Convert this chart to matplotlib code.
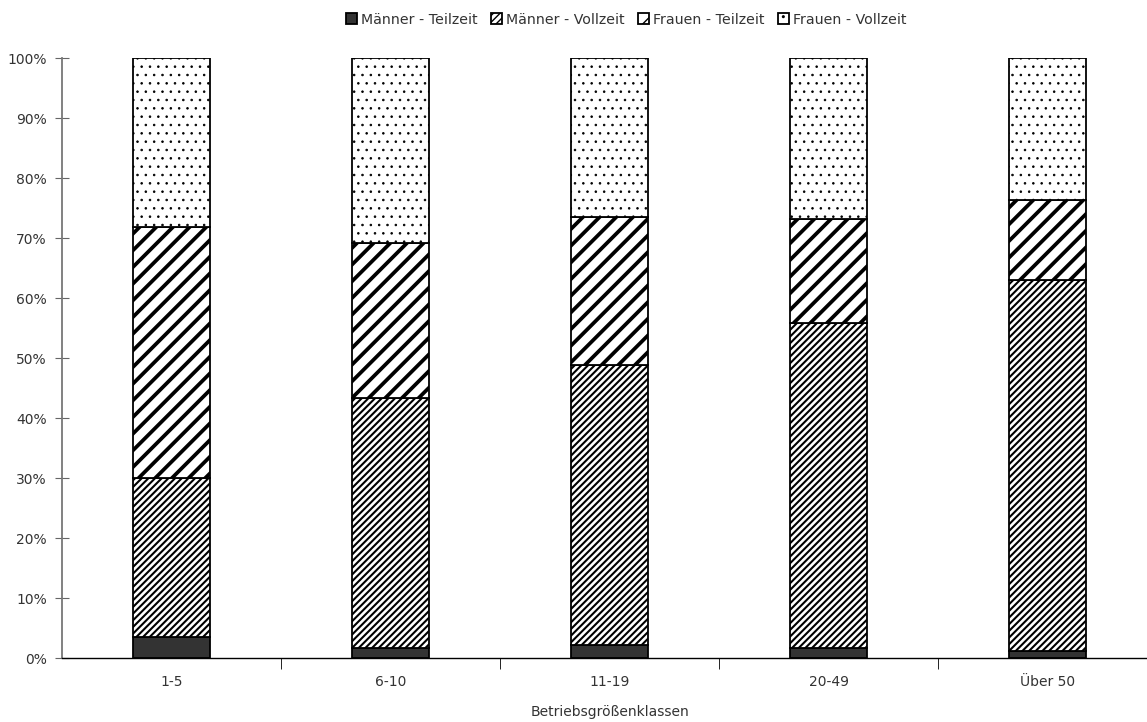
import matplotlib
matplotlib.use("Agg")
import matplotlib.pyplot as plt
import numpy as np

plt.rcParams['font.family'] = ['DejaVu Sans']
plt.rcParams['font.size'] = 10
plt.rcParams['text.color'] = '#333333'
plt.rcParams['xtick.labelcolor'] = '#333333'
plt.rcParams['ytick.labelcolor'] = '#333333'
plt.rcParams['axes.labelcolor'] = '#333333'

klassen = ['1-5', '6-10', '11-19', '20-49', 'Über 50']
maenner_teilzeit = [3.5, 1.6, 2.1, 1.6, 1.2]
maenner_vollzeit = [26.5, 41.7, 46.8, 54.2, 61.8]
frauen_teilzeit = [41.8, 25.8, 24.6, 17.4, 13.3]
frauen_vollzeit = [28.2, 30.9, 26.5, 26.8, 23.7]

serien = [
    ('Männer - Teilzeit', maenner_teilzeit, '#333333', None, 1.0),
    ('Männer - Vollzeit', maenner_vollzeit, 'white', '/////', 1.5),
    ('Frauen - Teilzeit', frauen_teilzeit, 'white', '//', 2.7),
    ('Frauen - Vollzeit', frauen_vollzeit, 'white', '..', 0.6),
]

fig = plt.figure(figsize=(11.47, 7.22), dpi=100)
ax = fig.add_axes([62 / 1147, 64 / 722, 1095 / 1147, 600 / 722])

x = np.arange(len(klassen))
unten = np.zeros(len(klassen))
for name, werte, farbe, muster, hlw in serien:
    with plt.rc_context({'hatch.linewidth': hlw}):
        ax.bar(x, werte, width=0.356, bottom=unten, color=farbe,
               edgecolor='black', linewidth=1.3, hatch=muster, label=name)
    unten += np.array(werte)

ax.set_xlim(-0.5, len(klassen) - 0.5)
ax.set_ylim(0, 100)
ax.set_yticks(np.arange(0, 101, 10))
ax.set_yticklabels([f'{v}%' for v in range(0, 101, 10)])
ax.set_xticks(x)
ax.set_xticklabels(klassen)
ax.set_xticks(x[:-1] + 0.5, minor=True)
ax.tick_params(axis='x', which='major', length=0, pad=12)
ax.tick_params(axis='x', which='minor', length=8, direction='out', color='black')
ax.tick_params(axis='y', length=10, direction='inout', color='#666666', pad=6)
ax.set_xlabel('Betriebsgrößenklassen', labelpad=12)

for s in ['top', 'right']:
    ax.spines[s].set_visible(False)
ax.spines['left'].set_color('#777777')
ax.spines['left'].set_linewidth(1.3)
ax.spines['bottom'].set_color('black')
ax.spines['bottom'].set_linewidth(1.0)

fig.legend(loc='upper center', bbox_to_anchor=(0.546, 1.0), ncol=4, frameon=False,
           handlelength=0.8, handleheight=0.8, handletextpad=0.3, columnspacing=0.9,
           fontsize=10.2)

fig.savefig('out.png', dpi=100)
